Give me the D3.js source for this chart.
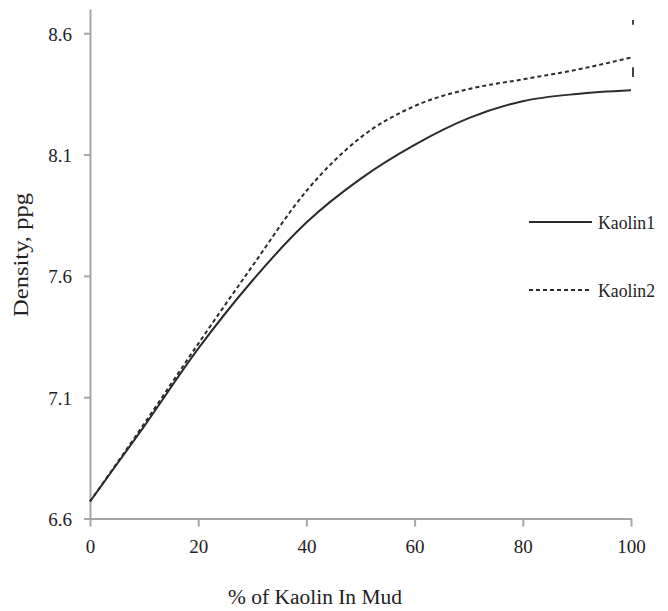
<!DOCTYPE html>
<html>
<head>
<meta charset="utf-8">
<script src="https://cdn.jsdelivr.net/npm/d3@7"></script>
<style>
  body { margin: 0; background: #fff; }
  svg text { font-family: "Liberation Serif", "Times New Roman", Times, serif !important; }
</style>
</head>
<body>
<div id="chart"></div>
<script>
const kaolinPct = [0, 10, 20, 30, 40, 50, 60, 70, 80, 90, 100];
const kaolin1 = [6.67, 6.98, 7.3, 7.58, 7.82, 8.0, 8.14, 8.25, 8.32, 8.35, 8.365];
const kaolin2 = [6.67, 6.99, 7.32, 7.64, 7.95, 8.17, 8.3, 8.37, 8.41, 8.45, 8.5];
const xTicks = [0, 20, 40, 60, 80, 100];
const yTicks = [6.6, 7.1, 7.6, 8.1, 8.6];
// stray bar fragments at the end of Kaolin2
const barX = 100;
const barUpper = [8.655, 8.635];
const barLower = [8.46, 8.42];

const width = 668;
const height = 611;

const svg = d3.select("#chart").append("svg")
  .attr("width", width)
  .attr("height", height)
  .style("display", "block");

const xScale = d3.scaleLinear().domain([0, 100]).range([90, 631]);
const yScale = d3.scaleLinear().domain([6.6, 8.7]).range([518.5, 9]);

const axisColor = "#a6a6a6";

const xAxis = svg.append("g")
  .attr("transform", "translate(0,518.5)")
  .call(d3.axisBottom(xScale).tickValues(xTicks).tickSize(8).tickSizeOuter(0).tickPadding(26));
const yAxis = svg.append("g")
  .attr("transform", "translate(90,0)")
  .call(d3.axisLeft(yScale).tickValues(yTicks).tickFormat(d3.format(".1f")).tickSize(6).tickSizeOuter(0).tickPadding(12));

[xAxis, yAxis].forEach((g) => {
  g.attr("font-family", "Liberation Serif").attr("font-size", 19);
  g.select(".domain").attr("stroke", axisColor).attr("stroke-width", 2);
  g.selectAll(".tick line").attr("stroke", axisColor).attr("stroke-width", 2);
  g.selectAll(".tick text").attr("fill", "#222");
});
yAxis.selectAll(".tick text").attr("dy", "0.36em");
xAxis.selectAll(".tick text").attr("dy", "0");

const line = (vals) => d3.line()
  .x((d, i) => xScale(kaolinPct[i]))
  .y((d) => yScale(d))
  .curve(d3.curveMonotoneX)(vals);

svg.append("path")
  .attr("d", line(kaolin1))
  .attr("fill", "none")
  .attr("stroke", "#2b2b2b")
  .attr("stroke-width", 2);

svg.append("path")
  .attr("d", line(kaolin2))
  .attr("fill", "none")
  .attr("stroke", "#2b2b2b")
  .attr("stroke-width", 2)
  .attr("stroke-dasharray", "4,3");

[barUpper, barLower].forEach((seg) => {
  svg.append("line")
    .attr("x1", xScale(barX) + 2)
    .attr("x2", xScale(barX) + 2)
    .attr("y1", yScale(seg[0]))
    .attr("y2", yScale(seg[1]))
    .attr("stroke", "#444")
    .attr("stroke-width", 2);
});

// legend
const legendItems = [
  { name: "Kaolin1", dash: null, y: 222 },
  { name: "Kaolin2", dash: "4,3", y: 290 },
];
const legend = svg.append("g").attr("font-family", "Liberation Serif");
legendItems.forEach((item) => {
  legend.append("line")
    .attr("x1", 529).attr("x2", 592)
    .attr("y1", item.y).attr("y2", item.y)
    .attr("stroke", "#2b2b2b")
    .attr("stroke-width", 2)
    .attr("stroke-dasharray", item.dash);
  legend.append("text")
    .attr("x", 598)
    .attr("y", item.y + 7)
    .attr("textLength", 57)
    .attr("lengthAdjust", "spacingAndGlyphs")
    .attr("font-size", 19)
    .attr("fill", "#222")
    .text(item.name);
});

svg.append("text")
  .attr("x", 228)
  .attr("y", 604)
  .attr("textLength", 174)
  .attr("lengthAdjust", "spacingAndGlyphs")
  .attr("font-size", 20)
  .attr("fill", "#222")
  .text("% of Kaolin In Mud");

svg.append("text")
  .attr("transform", "translate(28,317) rotate(-90)")
  .attr("textLength", 124)
  .attr("lengthAdjust", "spacingAndGlyphs")
  .attr("font-size", 20)
  .attr("fill", "#222")
  .text("Density, ppg");
</script>
</body>
</html>
